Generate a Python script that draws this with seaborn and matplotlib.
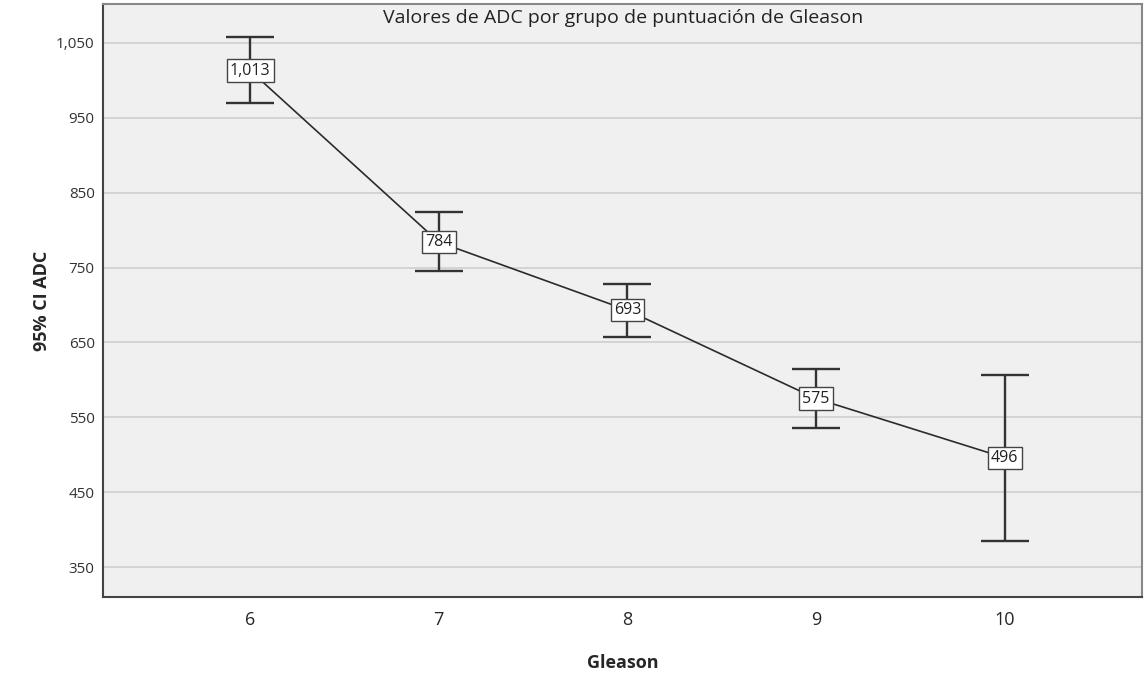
import matplotlib
matplotlib.use("Agg")
import matplotlib.pyplot as plt
from matplotlib.ticker import FuncFormatter
import seaborn as sns
import pandas as pd

# Values
gleason = [6, 7, 8, 9, 10]
mean_adc = [1013, 784, 693, 575, 496]
ci_low = [970, 745, 657, 536, 385]
ci_high = [1058, 824, 728, 614, 606]
y_ticks = [350, 450, 550, 650, 750, 850, 950, 1050]

df = pd.DataFrame({"Gleason": gleason, "ADC": mean_adc, "low": ci_low, "high": ci_high})

sns.set_theme(style="white")
plt.rcParams['font.family'] = ['Open Sans', 'DejaVu Sans']

fig = plt.figure(figsize=(11.46, 6.74), dpi=100)
ax = fig.add_axes([0.0899, 0.1142, 0.907, 0.880])
ax.set_facecolor("#f0f0f0")

# horizontal grid lines
for t in y_ticks:
    ax.axhline(t, color="#cfcfcf", lw=1.2, zorder=0)

sns.lineplot(data=df, x="Gleason", y="ADC", color="#2b2b2b", lw=1.2, ax=ax, zorder=2)

yerr = [df["ADC"] - df["low"], df["high"] - df["ADC"]]
ax.errorbar(df["Gleason"], df["ADC"], yerr=yerr, fmt="none", ecolor="#333333",
            elinewidth=1.7, capsize=17, capthick=1.7, zorder=3)

for g, v in zip(gleason, mean_adc):
    ax.text(g, v, f"{v:,}", ha="center", va="center", fontsize=11.5, color="#222222", zorder=5,
            bbox=dict(boxstyle="square,pad=0.2", fc="white", ec="#444444", lw=1.0))

ax.set_xlim(5.22, 10.73)
ax.set_ylim(310, 1102)
ax.set_xticks(gleason)
ax.set_yticks(y_ticks)
ax.yaxis.set_major_formatter(FuncFormatter(lambda v, p: f"{int(v):,}"))
ax.tick_params(axis="x", direction="in", length=6, width=1, color="#b0b0b0", labelsize=13, pad=10)
ax.tick_params(axis="y", length=0, labelsize=11, pad=6, labelcolor="#333333")

for side in ["left", "bottom"]:
    ax.spines[side].set_color("#444444")
    ax.spines[side].set_linewidth(1.5)
for side in ["top", "right"]:
    ax.spines[side].set_color("#888888")
    ax.spines[side].set_linewidth(1.5)

ax.set_xlabel("Gleason", fontsize=13, fontweight="bold", labelpad=18)
ax.set_ylabel("95% CI ADC", fontsize=13, fontweight="bold")
ax.yaxis.set_label_coords(-0.050, 0.5)
ax.text(0.5, 1 - 14 / 593, "Valores de ADC por grupo de puntuación de Gleason",
        transform=ax.transAxes, ha="center", va="center", fontsize=14, color="#222222")

fig.savefig("out.png", dpi=100)
